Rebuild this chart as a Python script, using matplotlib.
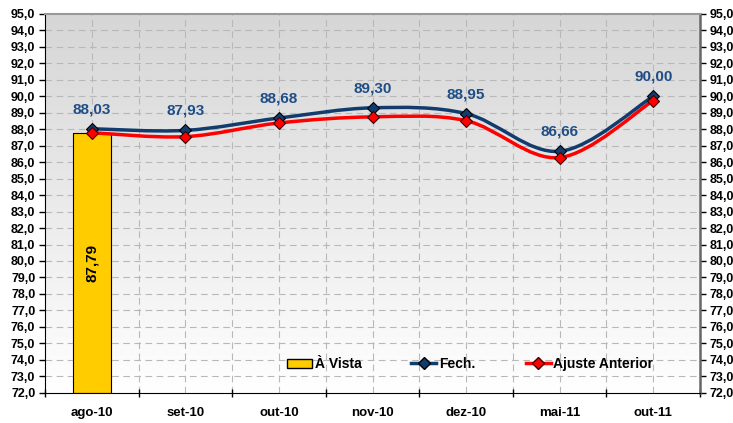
import numpy as np
import matplotlib
matplotlib.use("Agg")
import matplotlib.pyplot as plt
from matplotlib.path import Path
from matplotlib.patches import PathPatch
from matplotlib.lines import Line2D
from matplotlib.patches import Patch

plt.rcParams['font.family'] = ['Liberation Sans', 'DejaVu Sans']

categories = ['ago-10', 'set-10', 'out-10', 'nov-10', 'dez-10', 'mai-11', 'out-11']
avista = [87.79]
fech = [88.03, 87.93, 88.68, 89.30, 88.95, 86.66, 90.00]
ajuste = [87.79, 87.55, 88.38, 88.75, 88.52, 86.28, 89.74]

navy = '#123C6E'
label_navy = '#1F4E86'


def smooth_path(xs, ys):
    # excel-like smoothed line: bezier segments through the points
    xs = np.asarray(xs, float)
    ys = np.asarray(ys, float)
    n = len(xs)
    verts = [(xs[0], ys[0])]
    codes = [Path.MOVETO]
    t = 1 / 6
    for i in range(n - 1):
        p0 = (xs[i - 1], ys[i - 1]) if i > 0 else (xs[i], ys[i])
        p1 = (xs[i], ys[i])
        p2 = (xs[i + 1], ys[i + 1])
        p3 = (xs[i + 2], ys[i + 2]) if i + 2 < n else p2
        c1 = (p1[0] + (p2[0] - p0[0]) * t, p1[1] + (p2[1] - p0[1]) * t)
        c2 = (p2[0] - (p3[0] - p1[0]) * t, p2[1] - (p3[1] - p1[1]) * t)
        verts += [c1, c2, p2]
        codes += [Path.CURVE4] * 3
    return Path(verts, codes)


fig = plt.figure(figsize=(7.33, 4.23), dpi=100)
ax = fig.add_axes([0.0614, 0.0716, 0.8936, 0.8954])
x = np.arange(len(categories))
ax.set_xlim(-0.5, len(categories) - 0.5)
ax.set_ylim(72, 95)

# background gradient
grad = np.linspace(0, 1, 256).reshape(-1, 1)
ax.imshow(grad, extent=[-0.5, len(categories) - 0.5, 72, 95], aspect='auto',
          cmap=matplotlib.colors.LinearSegmentedColormap.from_list('g', ['#ffffff', '#d6d6d6']),
          origin='lower', zorder=0)

# grid
for yv in np.arange(73, 95, 1.0):
    ax.axhline(yv, color='#b8b8b8', lw=0.8, dashes=(6, 4), zorder=1)
for xv in np.arange(-0.5, len(categories) - 0.4, 0.5)[1:-1]:
    ax.axvline(xv, color='#b8b8b8', lw=0.8, dashes=(6, 4), zorder=1)

ax.bar(x[:len(avista)], [v - 72 for v in avista], bottom=72, width=0.4,
       color='#FFCC00', edgecolor='black', lw=0.8, zorder=2)
for i, v in enumerate(avista):
    ax.text(x[i], (72 + v) / 2, f'{v:.2f}'.replace('.', ','), rotation=90,
            ha='center', va='center', fontsize=11, fontweight='bold', color='black', zorder=5)

ax.add_patch(PathPatch(smooth_path(x, ajuste), fill=False, edgecolor='#FF0000', lw=2.5, zorder=3))
ax.add_patch(PathPatch(smooth_path(x, fech), fill=False, edgecolor=navy, lw=2.5, zorder=3))
ax.plot(x, fech, ls='none', marker='D', ms=6, mfc=navy, mec='black', mew=0.8, zorder=4)
ax.plot(x, ajuste, ls='none', marker='D', ms=6, mfc='#FF0000', mec='#400000', mew=0.8, zorder=4)

for i, v in enumerate(fech):
    ax.annotate(f'{v:.2f}'.replace('.', ','), (x[i], v), xytext=(0, 9), textcoords='offset points',
                ha='center', va='bottom', fontsize=11, fontweight='bold', color=label_navy, zorder=5)

# axes
ax.set_xticks(np.arange(-0.5, len(categories), 1.0))
ax.set_xticklabels([])
ax.set_xticks(x, minor=True)
ax.set_xticklabels(categories, minor=True, fontsize=9.5, fontweight='bold')
ax.tick_params(axis='x', which='major', direction='inout', length=6, width=1)
ax.tick_params(axis='x', which='minor', length=0, pad=10)

yt = np.arange(72, 95.1, 1.0)
ax.set_yticks(yt)
ax.set_yticklabels([f'{v:.1f}'.replace('.', ',') for v in yt], fontsize=9, fontweight='bold')
ax.tick_params(axis='y', direction='out', length=4, width=1, left=True, right=True,
               labelleft=True, labelright=True, pad=3)

ax.spines['left'].set_color('black')
ax.spines['bottom'].set_color('black')
ax.spines['right'].set_color('#666666')
ax.spines['right'].set_linewidth(1.8)
ax.spines['top'].set_color('#999999')
ax.spines['top'].set_linewidth(1.5)

handles = [Patch(facecolor='#FFCC00', edgecolor='black', label='À Vista'),
           Line2D([], [], color=navy, lw=2.5, marker='D', ms=6, mfc=navy, mec='black', label='Fech.'),
           Line2D([], [], color='#FF0000', lw=2.5, marker='D', ms=6, mfc='#FF0000', mec='#400000',
                  label='Ajuste Anterior')]
ax.legend(handles=handles, loc='center', bbox_to_anchor=(0.649, 0.075), ncol=3, frameon=False,
          prop={'weight': 'bold', 'size': 10}, handlelength=1.8, columnspacing=3.6, handletextpad=0.2)

fig.savefig('out.png', dpi=100)
